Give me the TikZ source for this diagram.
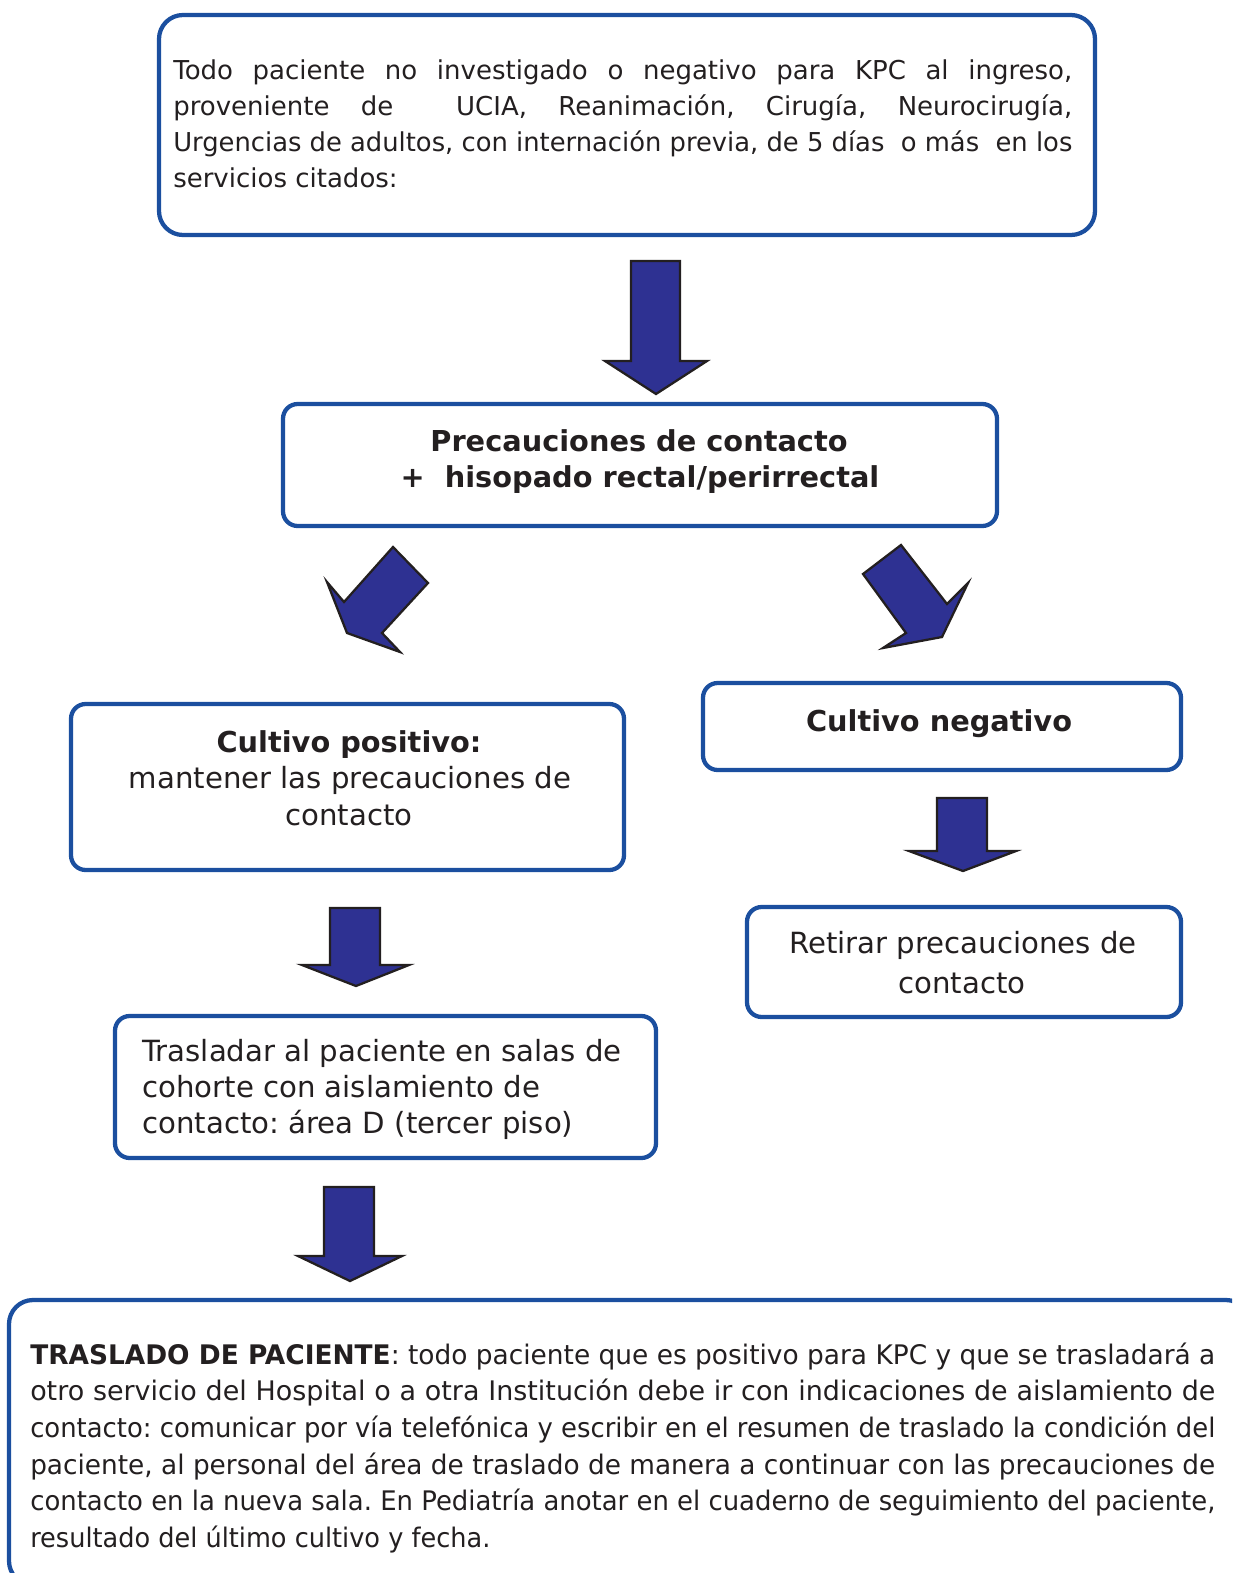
\documentclass[tikz,border=0pt]{standalone}
\usepackage{fontspec}
\usepackage{graphicx}
\setmainfont{DejaVu Sans}
\usetikzlibrary{fit}

\definecolor{boxblue}{HTML}{1B4F9F}
\definecolor{arrowfill}{HTML}{2E3192}
\definecolor{ink}{HTML}{231F20}

% justified single line: spaces stretch to the width, or the line is
% squeezed horizontally when its natural width is too large
\newlength\jlnat
\newcommand\jline[2]{\settowidth\jlnat{#2}%
  \ifdim\jlnat>#1\relax\resizebox{#1}{\height}{#2}\else\makebox[#1][s]{#2}\fi}

\frenchspacing

\begin{document}
\begin{tikzpicture}[x=0.75pt,y=-0.75pt,
  box/.style={draw=boxblue, line width=3.2pt, rounded corners=11pt, inner sep=0pt},
  bigbox/.style={box, rounded corners=18pt},
  blockarrow/.style={fill=arrowfill, draw=ink, line width=1.7pt, line join=miter},
  txt/.style={text=ink, inner sep=0pt, anchor=base},
  smallfont/.style={font=\fontsize{19.5}{24}\selectfont},
  notefont/.style={font=\fontsize{20.2}{24}\selectfont},
  mainfont/.style={font=\fontsize{21.9}{26}\selectfont},
  headfont/.style={font=\fontsize{21.6}{26}\selectfont\bfseries},
]
\useasboundingbox (0,0) rectangle (1232,1573);
\clip (0,0) rectangle (1232,1573);

% ---- boxes ----
\node[bigbox, fit={(159,15) (1095,235)}] (intro) {};
\node[box, fit={(283,404) (997,526)}] (swab) {};
\node[box, fit={(71,704) (624,870)}] (pos) {};
\node[box, fit={(703,683) (1181,770)}] (neg) {};
\node[box, fit={(747,907) (1181,1017)}] (remove) {};
\node[box, fit={(115,1016) (656,1158)}] (cohort) {};
\node[bigbox, fit={(9,1300) (1250,1585)}] (transfer) {};

% ---- block arrows ----
\draw[blockarrow] (631,261) -- (680,261) -- (680,361) -- (707,361) -- (656,394)
  -- (605,361) -- (631,361) -- cycle;
\draw[blockarrow] (393,547) -- (428,583) -- (382,633) -- (400,652) -- (347,633)
  -- (327,582) -- (344,602) -- cycle;
\draw[blockarrow] (863,574) -- (901,545) -- (947,604) -- (968,583) -- (942,637)
  -- (883,648) -- (906,633) -- cycle;
\draw[blockarrow] (937,798) -- (987,798) -- (987,851) -- (1016,851) -- (963,871)
  -- (909,851) -- (937,851) -- cycle;
\draw[blockarrow] (330,908) -- (380,908) -- (380,965) -- (409,965) -- (356,986)
  -- (302,965) -- (330,965) -- cycle;
\draw[blockarrow] (324,1187) -- (374,1187) -- (374,1256) -- (402,1256) -- (350,1281)
  -- (298,1256) -- (324,1256) -- cycle;

% ---- intro text ----
\foreach \ln [count=\i from 0] in {
  {Todo paciente no investigado o negativo para KPC al ingreso,},
  {proveniente de\ \ UCIA, Reanimación, Cirugía, Neurocirugía,},
  {Urgencias de adultos, con internación previa, de 5 días\ \ o más\ \ en los}}
  \node[txt, smallfont, anchor=base west] (intro-l\i) at (173,80+35.8*\i) {\jline{674.25pt}{\ln}};
\node[txt, smallfont, anchor=base west] (intro-l3) at (173,187.4) {servicios citados:};

% ---- swab text ----
\node[txt, headfont] (swab-l0) at (639,451) {Precauciones de contacto};
\node[txt, headfont] (swab-l1) at (640,487) {+\ \ hisopado rectal/perirrectal};

% ---- positive culture ----
\node[txt, headfont] (pos-l0) at (349,752) {Cultivo positivo:};
\node[txt, mainfont] (pos-l1) at (350,788) {mantener las precauciones de};
\node[txt, mainfont] (pos-l2) at (349,825) {contacto};

% ---- negative culture ----
\node[txt, headfont] (neg-l0) at (939,731) {Cultivo negativo};
\node[txt, mainfont] (remove-l0) at (963,953) {Retirar precauciones de};
\node[txt, mainfont] (remove-l1) at (962,993) {contacto};

% ---- cohort ----
\node[txt, mainfont, anchor=base west] (cohort-l0) at (142,1061) {Trasladar al paciente en salas de};
\node[txt, mainfont, anchor=base west] (cohort-l1) at (142,1097) {cohorte con aislamiento de};
\node[txt, mainfont, anchor=base west] (cohort-l2) at (142,1133) {contacto: área D (tercer piso)};

% ---- transfer note ----
\foreach \ln [count=\i from 0] in {
  {\textbf{TRASLADO DE PACIENTE}: todo paciente que es positivo para KPC y que se trasladará a},
  {otro servicio del Hospital o a otra Institución debe ir con indicaciones de aislamiento de},
  {contacto: comunicar por vía telefónica y escribir en el resumen de traslado la condición del},
  {paciente, al personal del área de traslado de manera a continuar con las precauciones de},
  {contacto en la nueva sala. En Pediatría anotar en el cuaderno de seguimiento del paciente,}}
  \node[txt, notefont, anchor=base west] (transfer-l\i) at (30,1364+36.7*\i) {\jline{888.75pt}{\ln}};
\node[txt, notefont, anchor=base west] (transfer-l5) at (30,1547.5)
  {\scalebox{0.95}[1]{resultado del último cultivo y fecha.}};
\end{tikzpicture}
\end{document}
